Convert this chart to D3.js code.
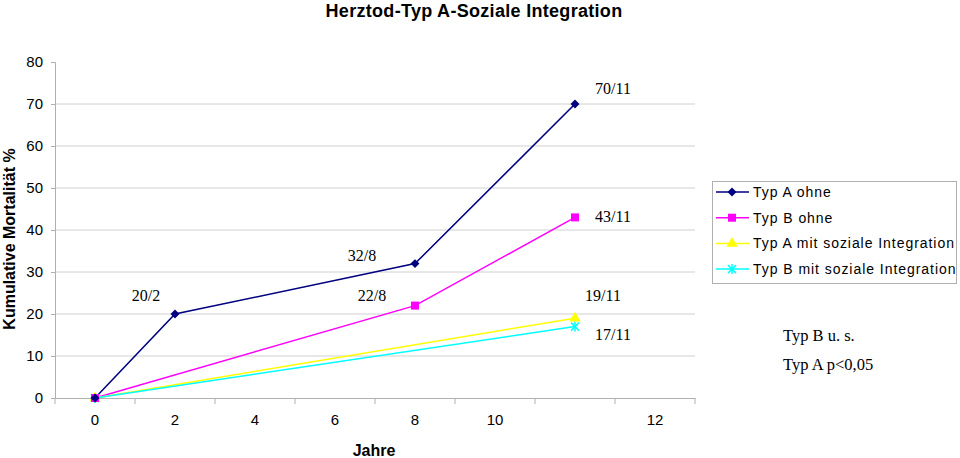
<!DOCTYPE html>
<html><head><meta charset="utf-8">
<script src="https://cdn.jsdelivr.net/npm/d3@7"></script>
<style>body{margin:0;background:#fff}svg{display:block}</style>
</head><body>
<svg id="c" width="960" height="458"></svg>
<script>
const categories = ["0","2","4","6","8","10","","12"];
const yTicks = [0,10,20,30,40,50,60,70,80];
const seriesNames = ["Typ A ohne","Typ B ohne","Typ A mit soziale Integration","Typ B mit soziale Integration"];
// values per category index (null = no data)
const typAohne = [0,20,null,null,32,null,70,null];
const typBohne = [0,null,null,null,22,null,43,null];
const typAmit  = [0,null,null,null,null,null,19,null];
const typBmit  = [0,null,null,null,null,null,17,null];
const pointLabels = [
  {s:0,i:1,t:"20/2"},{s:0,i:4,t:"32/8"},{s:0,i:6,t:"70/11"},
  {s:1,i:4,t:"22/8"},{s:1,i:6,t:"43/11"},
  {s:2,i:6,t:"19/11"},{s:3,i:6,t:"17/11"}
];
const notes = ["Typ B u. s.","Typ A p<0,05"];

const colors = ["#000080","#ff00ff","#ffff00","#00ffff"];
const symbols = ["diamond","square","triangle","asterisk"];
const seriesVals = [typAohne,typBohne,typAmit,typBmit];

const svg = d3.select("#c");
const L=55,R=695,T=62,B=398;
const x = d3.scaleBand().domain(d3.range(categories.length)).range([L,R]);
const xc = i => x(i)+x.bandwidth()/2;
const y = d3.scaleLinear().domain([0,80]).range([B,T]);

// gridlines
svg.append("g").selectAll("line").data(yTicks.filter(v=>v>0&&v<80)).join("line")
  .attr("x1",L).attr("x2",R).attr("y1",d=>y(d)).attr("y2",d=>y(d))
  .attr("stroke","#d0d0d0").attr("stroke-width",1);

// y axis
const ya = svg.append("g").attr("transform",`translate(${L},0)`)
  .call(d3.axisLeft(y).tickValues(yTicks).tickSize(4).tickPadding(8));
ya.select(".domain").attr("stroke","#b0b0b0");
ya.selectAll(".tick line").attr("stroke","#b0b0b0");
ya.selectAll("text").attr("font-family","Liberation Sans, Arial, sans-serif").attr("font-size",15).attr("fill","#000");

// x axis
const xa = svg.append("g").attr("transform",`translate(0,${B})`)
  .call(d3.axisBottom(x).tickFormat(i=>categories[i]).tickSize(0).tickPadding(16));
xa.select(".domain").attr("stroke","#b0b0b0");
xa.selectAll(".tick line").remove();
xa.selectAll("text").attr("font-family","Liberation Sans, Arial, sans-serif").attr("font-size",15).attr("fill","#000");
// boundary ticks between categories
xa.append("g").selectAll("line").data(d3.range(categories.length+1)).join("line")
  .attr("x1",i=>L+i*x.step()).attr("x2",i=>L+i*x.step()).attr("y1",0).attr("y2",6)
  .attr("stroke","#b0b0b0");

function marker(g,type,color){
  if(type==="diamond") g.append("path").attr("d",d3.symbol(d3.symbolSquare,40)()).attr("transform","rotate(45)").attr("fill",color);
  else if(type==="square") g.append("rect").attr("x",-4).attr("y",-4).attr("width",8).attr("height",8).attr("fill",color);
  else if(type==="triangle") g.append("path").attr("d",d3.symbol(d3.symbolTriangle,55)()).attr("fill",color);
  else {
    const p=g.append("g").attr("stroke",color).attr("stroke-width",1.5);
    p.append("line").attr("x1",-4).attr("x2",4).attr("y1",-4).attr("y2",4);
    p.append("line").attr("x1",-4).attr("x2",4).attr("y1",4).attr("y2",-4);
    p.append("line").attr("x1",0).attr("x2",0).attr("y1",-5).attr("y2",5);
  }
}

// lines
const line = d3.line().x(d=>xc(d.i)).y(d=>y(d.v));
seriesVals.forEach((vals,s)=>{
  const pts = vals.map((v,i)=>({i,v})).filter(d=>d.v!==null);
  svg.append("path").datum(pts).attr("d",line).attr("fill","none")
    .attr("stroke",colors[s]).attr("stroke-width",1.5);
});
[3,2,1,0].forEach(s=>{
  seriesVals[s].forEach((v,i)=>{
    if(v===null) return;
    marker(svg.append("g").attr("transform",`translate(${xc(i)},${y(v)})`),symbols[s],colors[s]);
  });
});

// data labels
const lblOff = {"20/2":[-29,-13],"32/8":[-53,-3],"70/11":[38,-10],"22/8":[-43,-5],"43/11":[38,5],"19/11":[28,-17],"17/11":[38,13]};
svg.append("g").selectAll("text").data(pointLabels).join("text")
  .attr("x",d=>xc(d.i)+lblOff[d.t][0]).attr("y",d=>y(seriesVals[d.s][d.i])+lblOff[d.t][1])
  .attr("text-anchor","middle").attr("font-family","Liberation Serif, Times New Roman, serif")
  .attr("font-size",16).text(d=>d.t);

// title & axis titles
svg.append("text").attr("x",474).attr("y",17).attr("text-anchor","middle")
  .attr("font-family","Liberation Sans, Arial, sans-serif").attr("font-weight","bold").attr("font-size",18)
  .attr("letter-spacing",0.3)
  .text("Herztod-Typ A-Soziale Integration");
svg.append("text").attr("transform","translate(15,239) rotate(-90)").attr("text-anchor","middle")
  .attr("font-family","Liberation Sans, Arial, sans-serif").attr("font-weight","bold").attr("font-size",16)
  .text("Kumulative Mortalität %");
svg.append("text").attr("x",374).attr("y",456).attr("text-anchor","middle")
  .attr("font-family","Liberation Sans, Arial, sans-serif").attr("font-weight","bold").attr("font-size",16)
  .text("Jahre");

// legend
const lg = svg.append("g");
lg.append("rect").attr("x",712.5).attr("y",181.5).attr("width",244).attr("height",102)
  .attr("fill","#fff").attr("stroke","#b0b0b0");
seriesNames.forEach((n,s)=>{
  const yy = 192 + s*25.7;
  lg.append("line").attr("x1",716).attr("x2",749).attr("y1",yy).attr("y2",yy).attr("stroke",colors[s]).attr("stroke-width",1.5);
  marker(lg.append("g").attr("transform",`translate(732,${yy})`),symbols[s],colors[s]);
  lg.append("text").attr("x",753).attr("y",yy+5).attr("font-family","Liberation Sans, Arial, sans-serif")
    .attr("font-size",14).attr("letter-spacing",0.95).text(n);
});

// notes
svg.append("g").selectAll("text").data(notes).join("text")
  .attr("x",783).attr("y",(d,i)=>341+i*29).attr("font-family","Liberation Serif, Times New Roman, serif")
  .attr("font-size",16.5).text(d=>d);
</script>
</body></html>
